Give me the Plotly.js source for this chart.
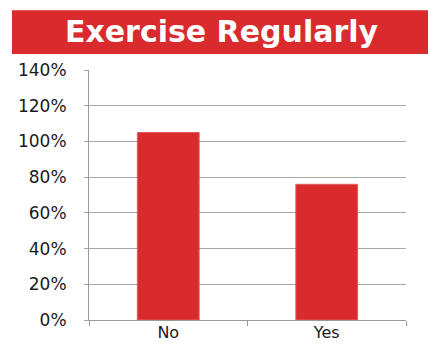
<!DOCTYPE html>
<html>
<head>
<meta charset="utf-8">
<script src="https://cdn.plot.ly/plotly-3.0.1.min.js"></script>
<style>html,body{margin:0;padding:0;background:#fff;}#chart{width:428px;height:344px;}</style>
</head>
<body>
<div id="chart"></div>
<script>
const categories = ['No', 'Yes'];
const values = [1.05, 0.76];
const yTickVals = [0, 0.2, 0.4, 0.6, 0.8, 1.0, 1.2, 1.4];
const titleText = 'Exercise Regularly';

const red = '#D92B2E';

const trace = {
  type: 'bar',
  x: categories,
  y: values,
  marker: { color: red, line: { color: '#E45A5C', width: 1 } },
  hoverinfo: 'x+y'
};

const tickFont = { family: 'DejaVu Sans', size: 17, color: '#1a1a1a' };
const xTickFont = { family: 'DejaVu Sans', size: 16, color: '#1a1a1a' };

const layout = {
  width: 428,
  height: 344,
  margin: { l: 89, r: 22, t: 70, b: 24, pad: 0 },
  paper_bgcolor: '#ffffff',
  plot_bgcolor: '#ffffff',
  showlegend: false,
  bargap: 0.61,
  title: {
    text: '<b>' + titleText + '</b>',
    font: { family: 'DejaVu Sans', size: 30, color: '#ffffff' },
    xref: 'container', yref: 'container',
    x: 0.5175, y: 0.907, xanchor: 'center', yanchor: 'middle'
  },
  shapes: [{
    type: 'rect', xref: 'paper', yref: 'paper',
    x0: -0.243, x1: 1.07, y0: 1.0637, y1: 1.239,
    fillcolor: red, line: { width: 0 }, layer: 'below'
  }],
  xaxis: {
    type: 'category',
    showgrid: false,
    showline: true, linecolor: '#9a9a9a', linewidth: 1,
    ticks: 'outside', tickson: 'boundaries', ticklen: 5, tickcolor: '#9a9a9a',
    ticklabelstandoff: -2,
    tickfont: xTickFont,
    fixedrange: true
  },
  yaxis: {
    range: [0, 1.4],
    tickvals: yTickVals,
    tickformat: '.0%',
    showgrid: true, gridcolor: '#a8a8a8', gridwidth: 1,
    zeroline: false,
    showline: true, linecolor: '#9a9a9a', linewidth: 1,
    ticks: 'outside', ticklen: 4, tickcolor: '#a8a8a8',
    ticklabelstandoff: 14,
    tickfont: tickFont,
    fixedrange: true
  }
};

Plotly.newPlot('chart', [trace], layout, { displayModeBar: false, staticPlot: true });
</script>
</body>
</html>
